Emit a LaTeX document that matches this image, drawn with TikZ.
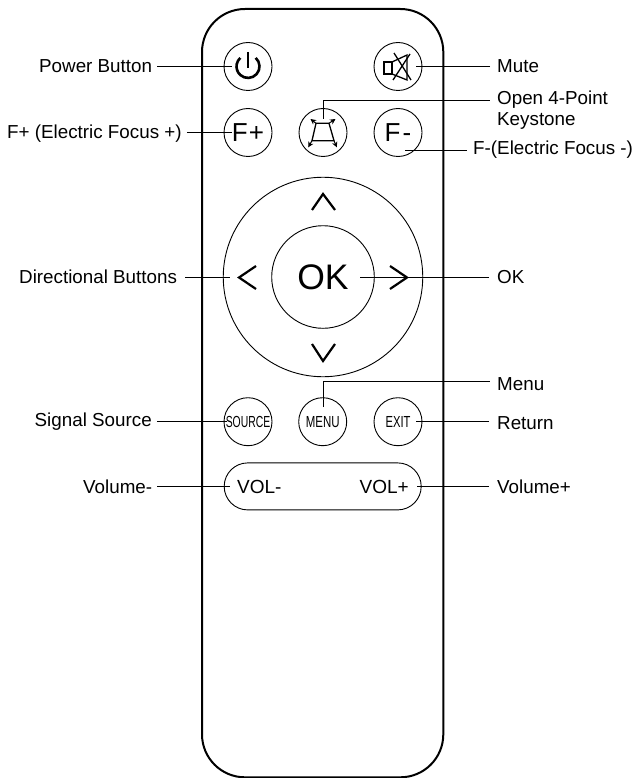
\documentclass[tikz,border=0pt]{standalone}
\usepackage{fontspec}
\usepackage{graphicx}
\setmainfont{Liberation Sans}
\usetikzlibrary{arrows.meta}
\tikzset{
  btn/.style={circle,draw,line width=0.9pt,minimum size=48pt,inner sep=0pt},
  lbl/.style={inner sep=0pt,anchor=base west,font=\fontsize{18.8}{20.5}\selectfont},
  lead/.style={line width=0.9pt},
  icon/.style={line width=1.3pt},
  chev/.style={line width=2.2pt},
  arr/.style={line width=1pt,-{Stealth[length=5.5pt,width=5.5pt]}},
  fkey/.style={font=\fontsize{26}{26}\selectfont},
  small/.style={font=\fontsize{16}{16}\selectfont},
  volt/.style={font=\fontsize{19}{19}\selectfont,inner sep=0pt}
}
\begin{document}
\begin{tikzpicture}[x=1pt,y=-1pt]
\useasboundingbox (0,0) rectangle (638,778);
% body
\draw[line width=2pt,rounded corners=43pt] (202,9) rectangle (443.3,777.3);
% buttons
\node[btn] (power) at (248,66.5) {};
\node[btn] (mute) at (398,66.5) {};
\node[btn,fkey] (fplus) at (248,132.5) {F\kern1pt+};
\node[btn] (key) at (323,132.5) {};
\node[btn,fkey] (fminus) at (398,132.5) {F\kern2pt-};
\node[circle,draw,line width=0.9pt,minimum size=199.5pt,inner sep=0pt] (pad) at (323,277) {};
\node[circle,draw,line width=0.9pt,minimum size=102.6pt,inner sep=0pt,font=\fontsize{35.5}{36}\selectfont] (ok) at (323,277) {OK};
\node[btn,small] (source) at (248,421.7) {\scalebox{0.65}[1]{SOURCE}};
\node[btn,small] (menu) at (322.7,421.7) {\scalebox{0.717}[1]{MENU}};
\node[btn,small] (exit) at (398,421.7) {\scalebox{0.7}[1]{EXIT}};
\node[draw,line width=0.9pt,rounded corners=23.5pt,minimum width=197pt,minimum height=47pt,inner sep=0pt] (vol) at (322.7,486.4) {};
\node[volt,anchor=west] (volm) at (237,486.7) {VOL-};
\node[volt,anchor=east] (volp) at (409,486.7) {VOL+};
% power icon
\draw[line width=2.6pt] (255.7,57.9) arc[start angle=-48,end angle=228,radius=11.5];
\draw[line width=2.6pt] (248,52) -- (248,68);
% mute icon
\draw[icon] (384,62) rectangle (392,74);
\draw[icon] (392,62) -- (407,55) -- (407,80) -- (392,74);
\draw[icon] (394,53) -- (411,80);
\draw[icon] (410,54) -- (393,80);
% keystone icon
\draw[icon] (316,123.3) -- (329,123.3) -- (334,140.7) -- (312,140.7) -- cycle;
\draw[arr] (316,123.3) -- (310.5,119);
\draw[arr] (329,123.3) -- (335.5,119);
\draw[arr] (312,140.7) -- (308.2,147.3);
\draw[arr] (334,140.7) -- (336.8,147.3);
% direction chevrons
\draw[chev] (312,210) -- (323,194) -- (335,210);
\draw[chev] (312,344) -- (323,361) -- (335,344);
\draw[chev] (256,266) -- (239,277.5) -- (256,289);
\draw[chev] (390,266) -- (407,277.5) -- (390,289);
% labels
\node[lbl] (lpower) at (39,72.7) {Power Button};
\node[lbl] (lmute) at (497,72.7) {Mute};
\node[lbl] (lfplus) at (7,138.3) {F+ (Electric Focus +)};
\node[lbl,anchor=west,align=left] (lkey) at (497,110) {Open 4-Point\\Keystone};
\node[lbl] (lfminus) at (473,155) {F-(Electric Focus -)};
\node[lbl] (ldir) at (19,283.3) {Directional Buttons};
\node[lbl] (lok) at (497,283.3) {OK};
\node[lbl] (lmenu) at (497,390.7) {Menu};
\node[lbl] (lsource) at (34.5,426.5) {Signal Source};
\node[lbl] (lreturn) at (497,429.3) {Return};
\node[lbl] (lvolm) at (83,493) {Volume-};
\node[lbl] (lvolp) at (497,493) {Volume+};
% connectors
\coordinate (keyend) at (323,119);
\coordinate (keybend) at (323,100);
\coordinate (keyout) at (490,100);
\coordinate (menuend) at (323,407);
\coordinate (menubend) at (323,381);
\coordinate (menuout) at (490,381);
\coordinate (fmend) at (405,150);
\coordinate (fmout) at (467,150);
\coordinate (okend) at (360,277);
\draw[lead] ([xshift=5pt]lpower.east |- power) -- ([xshift=8pt]power.west);
\draw[lead] ([xshift=-7pt]lmute.west |- mute) -- ([xshift=-6pt]mute.east);
\draw[lead] ([xshift=5pt]lfplus.east |- fplus) -- ([xshift=8pt]fplus.west);
\draw[lead] (keyend) -- (keybend) -- (keyout);
\draw[lead] (fmend) -- (fmout);
\draw[lead] ([xshift=8pt]ldir.east |- pad) -- ([xshift=7pt]pad.west);
\draw[lead] ([xshift=-8pt]lok.west |- pad) -- (okend);
\draw[lead] (menuend) -- (menubend) -- (menuout);
\draw[lead] ([xshift=5pt]lsource.east |- source) -- ([xshift=3pt]source.west);
\draw[lead] ([xshift=-8pt]lreturn.west |- exit) -- ([xshift=-6pt]exit.east);
\draw[lead] ([xshift=5pt]lvolm.east |- vol) -- ([xshift=6pt]vol.west);
\draw[lead] ([xshift=-8pt]lvolp.west |- vol) -- ([xshift=-5pt]vol.east);
\end{tikzpicture}
\end{document}
